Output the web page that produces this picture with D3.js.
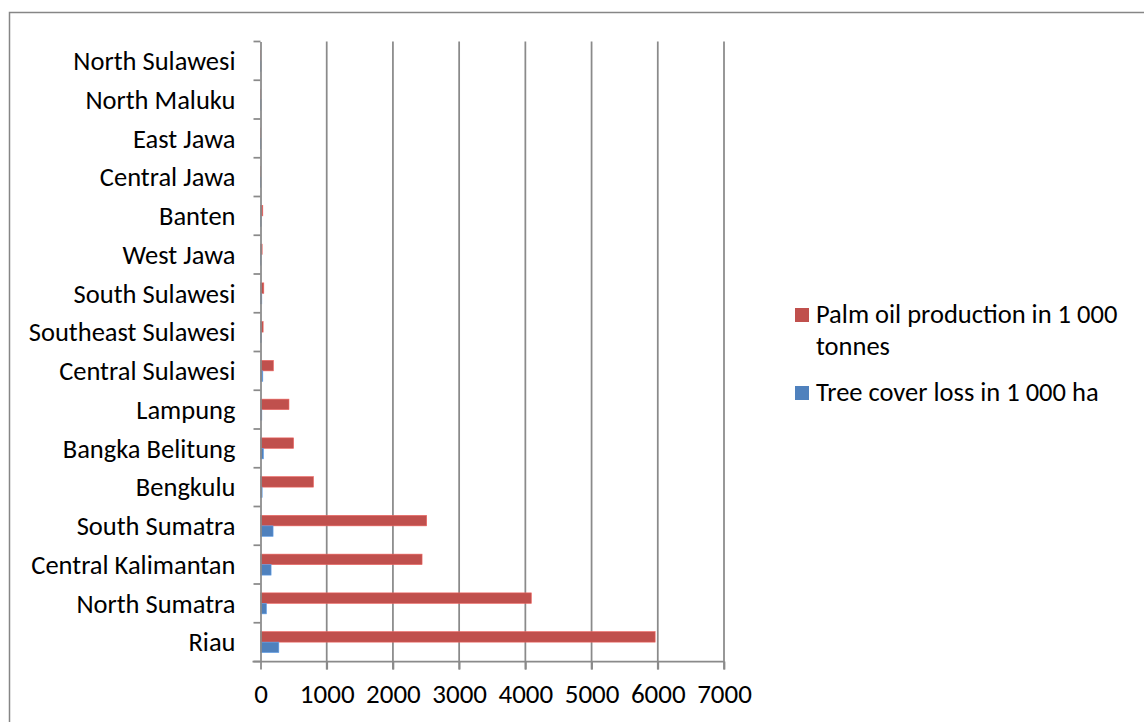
<!DOCTYPE html>
<html>
<head>
<meta charset="utf-8">
<script src="https://cdn.jsdelivr.net/npm/d3@7"></script>
<style>
  html, body { margin: 0; padding: 0; background: #fff; }
  svg { display: block; }
  text { font-family: Carlito, Calibri, Lato, "DejaVu Sans", sans-serif; fill: #000; }
</style>
</head>
<body>
<svg id="chart" width="1144" height="722"></svg>
<script>
// Provinces, listed from the bottom of the chart to the top
const provinces = [
  "Riau", "North Sumatra", "Central Kalimantan", "South Sumatra", "Bengkulu",
  "Bangka Belitung", "Lampung", "Central Sulawesi", "Southeast Sulawesi",
  "South Sulawesi", "West Jawa", "Banten", "Central Jawa", "East Jawa",
  "North Maluku", "North Sulawesi"
];
// Palm oil production, 1 000 tonnes
const palmOil = [5960, 4090, 2440, 2510, 800, 500, 430, 195, 40, 50, 25, 35, 3, 2, 2, 2];
// Tree cover loss, 1 000 ha
const treeLoss = [277, 90, 160, 190, 25, 45, 20, 35, 15, 20, 8, 10, 5, 5, 8, 8];
const xTicks = [0, 1000, 2000, 3000, 4000, 5000, 6000, 7000];
const seriesNames = ["Palm oil production in 1 000 tonnes", "Tree cover loss in 1 000 ha"];
const seriesColors = ["#C0504D", "#4F81BD"];

const rows = provinces.map((p, i) => ({ name: p, values: [palmOil[i], treeLoss[i]] }));

const svg = d3.select("#chart");
const fontSize = 26.5;
const tickFontSize = 27;
const gridColor = "#8a8a8a";

// Chart area frame
svg.append("rect")
  .attr("x", 9.5).attr("y", 12.5)
  .attr("width", 1200).attr("height", 800)
  .attr("fill", "none").attr("stroke", "#868686").attr("stroke-width", 1.5);

const x = d3.scaleLinear().domain([0, 7000]).range([260.5, 724]);
const y = d3.scaleBand()
  .domain(provinces.slice().reverse())
  .range([41.5, 661.5])
  .padding(0);
const inner = d3.scaleBand()
  .domain([0, 1])
  .range([0, y.bandwidth()])
  .paddingInner(0)
  .paddingOuter(0.845);

// Vertical gridlines
svg.append("g")
  .selectAll("line")
  .data(xTicks.slice(1))
  .join("line")
  .attr("x1", d => x(d)).attr("x2", d => x(d))
  .attr("y1", y.range()[0]).attr("y2", y.range()[1] + 8)
  .attr("stroke", gridColor).attr("stroke-width", 1.75);

// Bars
const groups = svg.append("g")
  .selectAll("g")
  .data(rows)
  .join("g")
  .attr("transform", d => `translate(0,${y(d.name)})`);

groups.selectAll("rect")
  .data(d => d.values.map((v, k) => ({ v, k })))
  .join("rect")
  .attr("x", x(0))
  .attr("y", d => inner(d.k))
  .attr("width", d => x(d.v) - x(0))
  .attr("height", inner.bandwidth())
  .attr("fill", d => seriesColors[d.k])
  .attr("stroke", d => d3.color(seriesColors[d.k]).brighter(0.6))
  .attr("stroke-width", 0.6);

// Category axis
const yAxis = svg.append("g")
  .attr("transform", `translate(${x(0)},0)`)
  .call(d3.axisLeft(y).tickSize(0).tickPadding(25));
yAxis.select(".domain").attr("stroke", gridColor).attr("stroke-width", 1.75);
yAxis.selectAll("text")
  .style("font-size", fontSize + "px")
  .attr("dy", "0.35em");

// Category boundary ticks
const bounds = provinces.map(p => y(p)).concat([y.range()[1]]);
svg.append("g")
  .selectAll("line")
  .data(bounds)
  .join("line")
  .attr("x1", x(0) - 7).attr("x2", x(0))
  .attr("y1", d => d).attr("y2", d => d)
  .attr("stroke", gridColor).attr("stroke-width", 1.75);

// Value axis
const xAxis = svg.append("g")
  .attr("transform", `translate(0,${y.range()[1]})`)
  .call(d3.axisBottom(x).tickValues(xTicks).tickFormat(d3.format("d")).tickSize(8).tickPadding(14));
xAxis.select(".domain").remove();
xAxis.append("line")
  .attr("x1", x(0) - 8).attr("x2", x(7000))
  .attr("stroke", gridColor).attr("stroke-width", 1.75);
xAxis.selectAll(".tick line").attr("stroke", gridColor).attr("stroke-width", 1.75);
xAxis.selectAll("text").style("font-size", tickFontSize + "px");

// Legend
const legend = svg.append("g");
const legendItems = [
  { lines: ["Palm oil production in 1 000", "tonnes"], color: seriesColors[0], y: 308 },
  { lines: [seriesNames[1]], color: seriesColors[1], y: 386 }
];
legendItems.forEach(item => {
  legend.append("rect")
    .attr("x", 795).attr("y", item.y)
    .attr("width", 14).attr("height", 14)
    .attr("fill", item.color);
  const t = legend.append("text")
    .attr("x", 816).attr("y", item.y + 15)
    .style("font-size", fontSize + "px");
  item.lines.forEach((ln, i) => {
    t.append("tspan").attr("x", 816).attr("dy", i === 0 ? 0 : 32).text(ln);
  });
});
</script>
</body>
</html>
